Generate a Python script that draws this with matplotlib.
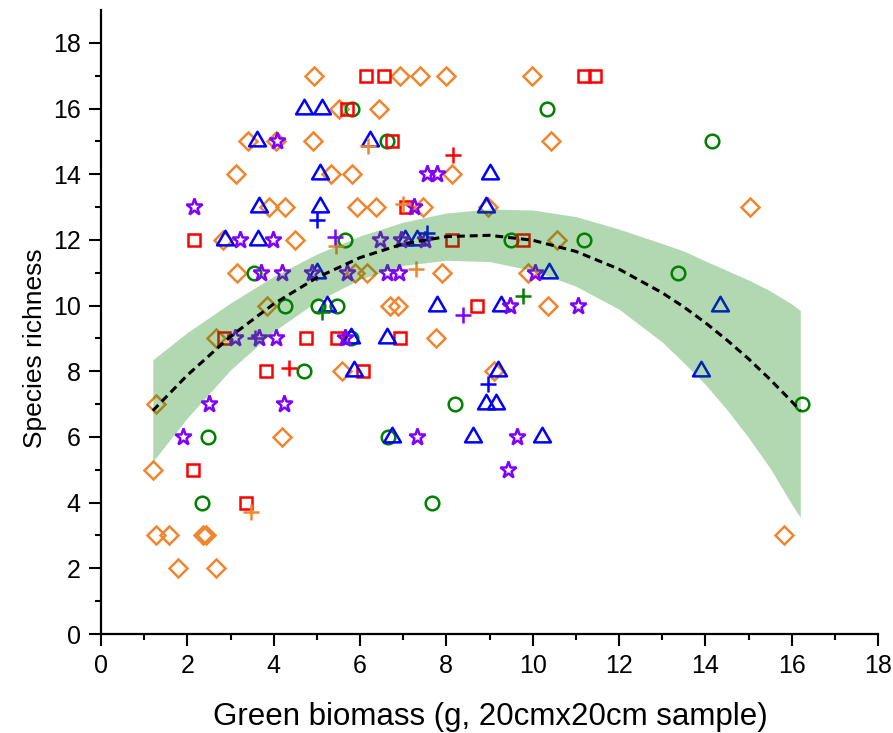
import numpy as np
import matplotlib
matplotlib.use('Agg')
import matplotlib.pyplot as plt
from matplotlib.path import Path

plt.rcParams['font.family'] = ['Liberation Sans', 'DejaVu Sans']

# scatter data (x = green biomass, y = species richness)
diamond_x = [4.94, 6.93, 7.39, 7.99, 9.98, 5.52, 6.45, 3.41, 4.05, 4.92, 10.43,
             3.13, 5.33, 5.81, 8.12, 3.89, 4.26, 5.94, 6.37, 7.45, 8.97, 15.04,
             2.83, 4.49, 10.56, 3.14, 5.88, 6.17, 7.89, 9.90, 3.84, 6.69, 6.89, 10.36,
             2.66, 7.75, 5.59, 9.10, 1.27, 4.20, 1.21, 1.27, 1.58, 2.36, 2.43, 15.83,
             1.79, 2.66]
diamond_y = [17, 17, 17, 17, 17, 16, 16, 15, 15, 15, 15,
             14, 14, 14, 14, 13, 13, 13, 13, 13, 13, 13,
             12, 12, 12, 11, 11, 11, 11, 11, 10, 10, 10, 10,
             9, 9, 8, 8, 7, 6, 5, 3, 3, 3, 3, 3,
             2, 2]

square_x = [6.15, 6.56, 11.20, 11.44, 5.71, 6.73, 7.07, 2.15, 8.12, 9.77, 8.70,
            2.85, 4.74, 5.47, 6.93, 3.82, 6.06, 2.12, 3.37]
square_y = [17, 17, 17, 17, 16, 15, 13, 12, 12, 12, 10,
            9, 9, 9, 9, 8, 8, 5, 4]

circle_x = [5.81, 10.34, 6.62, 14.16, 5.65, 9.49, 11.20, 3.54, 13.36, 4.26, 5.03,
            5.46, 5.80, 4.70, 8.20, 16.23, 2.49, 6.66, 2.35, 7.66]
circle_y = [16, 16, 15, 15, 12, 12, 12, 11, 11, 10, 10,
            10, 9, 8, 7, 7, 6, 6, 4, 4]

triangle_x = [4.70, 5.11, 3.61, 6.23, 5.07, 9.00, 3.67, 5.07, 8.92, 2.87, 3.63,
              7.04, 7.33, 5.00, 10.38, 5.24, 7.78, 9.26, 14.34, 5.78, 6.62,
              5.85, 9.20, 13.90, 8.91, 9.15, 6.75, 8.61, 10.22]
triangle_y = [16, 16, 15, 15, 14, 14, 13, 13, 13, 12, 12,
              12, 12, 11, 11, 10, 10, 10, 10, 9, 9,
              8, 8, 8, 7, 7, 6, 6, 6]

star_x = [4.08, 7.56, 7.78, 2.15, 7.25, 3.22, 3.98, 6.46, 6.95, 7.50,
          3.71, 4.19, 4.88, 5.69, 6.62, 6.91, 10.05, 9.47, 11.06,
          3.10, 3.67, 4.05, 5.65, 2.51, 4.24, 1.91, 7.31, 9.64, 9.44]
star_y = [15, 14, 14, 13, 13, 12, 12, 12, 12, 12,
          11, 11, 11, 11, 11, 11, 11, 10, 10,
          9, 9, 9, 9, 7, 7, 6, 6, 6, 5]

# crosses (group means), one list per colour
plus_red_x = [8.16, 4.36]
plus_red_y = [14.6, 8.1]
plus_orange_x = [6.19, 7.00, 5.45, 7.30, 3.47]
plus_orange_y = [14.85, 13.1, 11.8, 11.1, 3.7]
plus_green_x = [5.13, 9.77]
plus_green_y = [9.8, 10.3]
plus_blue_x = [5.00, 7.56, 8.96]
plus_blue_y = [12.6, 12.2, 7.6]
plus_purple_x = [5.42, 8.38, 3.57]
plus_purple_y = [12.1, 9.7, 9.0]

# quadratic fit and its confidence band, read at these x
fit_x = [1.2, 2, 3, 4, 5, 6, 7, 8, 9, 10, 11, 12, 13, 13.5, 14, 14.5, 15, 15.5, 16, 16.2]
fit_y = [6.80, 7.88, 9.06, 10.05, 10.85, 11.46, 11.88, 12.10, 12.14, 11.99,
         11.65, 11.11, 10.39, 9.96, 9.48, 8.95, 8.38, 7.75, 7.08, 6.80]
band_lo = [5.25, 6.58, 8.04, 9.21, 10.13, 10.80, 11.22, 11.38, 11.34, 11.07,
           10.59, 9.89, 8.89, 8.26, 7.60, 6.83, 5.98, 5.05, 3.95, 3.55]
band_hi = [8.35, 9.18, 10.08, 10.89, 11.57, 12.12, 12.54, 12.82, 12.94, 12.91,
           12.71, 12.33, 11.89, 11.66, 11.36, 11.07, 10.78, 10.45, 10.05, 9.85]

orange = '#F0862E'
purple = '#8000FF'

tri = Path([(0, 1), (-0.866, -0.5), (0.866, -0.5), (0, 1)], closed=True)

fig = plt.figure(figsize=(8.93, 7.33), dpi=100)
ax = fig.add_axes([101/893, 1-634/733, 777/893, 624/733])

mew = 1.8
ax.plot(diamond_x, diamond_y, 'D', ms=9.3, mfc='none', mec=orange, mew=mew)
ax.plot(circle_x, circle_y, 'o', ms=9.8, mfc='none', mec='#008000', mew=mew)
ax.plot(square_x, square_y, 's', ms=8.8, mfc='none', mec='#FF0000', mew=mew)
ax.plot(triangle_x, triangle_y, marker=tri, ls='none', ms=14, mfc='none', mec='#0000FF', mew=mew)
ax.plot(star_x, star_y, '*', ms=12.5, mfc='none', mec=purple, mew=mew)
ax.plot(plus_red_x, plus_red_y, '+', ms=12, mec='#FF0000', mew=mew)
ax.plot(plus_orange_x, plus_orange_y, '+', ms=12, mec=orange, mew=mew)
ax.plot(plus_green_x, plus_green_y, '+', ms=12, mec='#008000', mew=mew)
ax.plot(plus_blue_x, plus_blue_y, '+', ms=12, mec='#0000FF', mew=mew)
ax.plot(plus_purple_x, plus_purple_y, '+', ms=12, mec=purple, mew=mew)

ax.fill_between(fit_x, band_lo, band_hi, color='green', alpha=0.3, lw=0, zorder=3)
ax.plot(fit_x, fit_y, color='black', lw=2.2, dashes=(2.6, 1.6), zorder=4)

ax.set_xlim(0, 18)
ax.set_ylim(0, 19)
ax.set_xticks(np.arange(0, 19, 2))
ax.set_xticks(np.arange(1, 18, 2), minor=True)
ax.set_yticks(np.arange(0, 19, 2))
ax.set_yticks(np.arange(1, 19, 2), minor=True)
ax.spines['top'].set_visible(False)
ax.spines['right'].set_visible(False)
for s in ['left', 'bottom']:
    ax.spines[s].set_linewidth(1.6)
ax.tick_params(which='major', length=8.5, width=1.5, labelsize=18, direction='out', pad=6)
ax.tick_params(which='minor', length=4.5, width=1.5, direction='out')

fig.text(35/893, 1-348/733, 'Species richness', rotation=90, ha='center', va='center', fontsize=19)
fig.text(490/893, 1-725/733, 'Green biomass (g, 20cmx20cm sample)', ha='center', va='baseline', fontsize=22.5)

fig.savefig('out.png', dpi=100)
